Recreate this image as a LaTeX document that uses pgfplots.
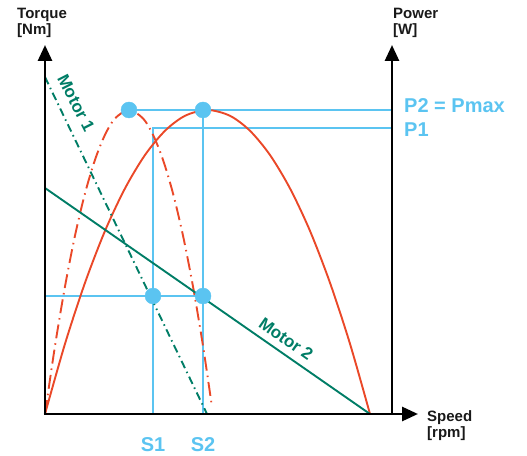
\documentclass[border=0pt]{standalone}
\usepackage{pgfplots}
\pgfplotsset{compat=1.18}
\usepackage{fontspec}
\setmainfont{Liberation Sans}
\usetikzlibrary{arrows.meta}
\definecolor{mgreen}{RGB}{0,125,102}
\definecolor{mred}{RGB}{234,72,40}
\definecolor{mblue}{RGB}{91,196,241}
\begin{document}
\begin{tikzpicture}
\begin{axis}[x=1pt,y=1pt,xmin=0,xmax=373,ymin=0,ymax=369,hide axis,
  anchor=origin,at={(0,0)},clip=false,scale only axis]
% blue construction lines
\addplot[mblue,line width=1.9pt] coordinates {(84,304) (347,304)};
\addplot[mblue,line width=1.9pt] coordinates {(108,0) (108,286) (347,286)};
\addplot[mblue,line width=1.9pt] coordinates {(158,0) (158,304)};
\addplot[mblue,line width=1.9pt] coordinates {(0,118) (158,118)};
% red power curves
\addplot[mred,line width=1.9pt,smooth] coordinates {
(0,0) (20,70.2) (40,131.2) (60,183.1) (80,225.6) (100,259.0) (120,283.2) (140,298.2)
(162.5,304) (185,298.2) (205,283.2) (225,259.0) (245,225.6) (265,183.1) (285,131.2) (305,70.2) (325,0)};
\addplot[mred,line width=1.9pt,smooth,dash pattern=on 14pt off 5pt on 1.5pt off 5pt] coordinates {
(0,0) (10,68.1) (20,127.5) (30,178.4) (40,220.6) (50,254.2) (60,279.2) (70,295.6) (84,304)
(98,295.6) (108,279.2) (118,254.2) (128,220.6) (138,178.4) (148,127.5) (158,68.1) (167,7)};
% motor torque lines
\addplot[mgreen,line width=1.9pt,dash pattern=on 8pt off 4pt on 1.5pt off 4pt] coordinates {(0,337) (162,0)};
\addplot[mgreen,line width=1.9pt] coordinates {(0,226) (325,0)};
% points
\addplot[only marks,mark=*,mark size=8pt,mblue] coordinates {(84,304) (158,304) (108,118) (158,118)};
% axes
\draw[line width=2.8pt,-{Triangle[length=16pt,width=14pt]}] (axis cs:0,0) -- (axis cs:0,369);
\draw[line width=2.8pt,-{Triangle[length=16pt,width=14pt]}] (axis cs:347,0) -- (axis cs:347,369);
\draw[line width=2.8pt,-{Triangle[length=16pt,width=14pt]}] (axis cs:-1.4,0) -- (axis cs:373,0);
% labels
\node[anchor=north west,align=left,inner sep=0pt,font=\bfseries\fontsize{15}{16}\selectfont,text=black!90] at (axis cs:-28,406) {Torque\\{[Nm]}};
\node[anchor=north west,align=left,inner sep=0pt,font=\bfseries\fontsize{15}{16}\selectfont,text=black!90] at (axis cs:348,406) {Power\\{[W]}};
\node[anchor=north west,align=left,inner sep=0pt,font=\bfseries\fontsize{15}{16}\selectfont,text=black!90] at (axis cs:382,4) {Speed\\{[rpm]}};
\node[anchor=base,inner sep=0pt,font=\bfseries\fontsize{20}{24}\selectfont,text=mblue] at (axis cs:108,-37) {S1};
\node[anchor=base,inner sep=0pt,font=\bfseries\fontsize{20}{24}\selectfont,text=mblue] at (axis cs:158,-37) {S2};
\node[anchor=base west,inner sep=0pt,font=\bfseries\fontsize{20}{24}\selectfont,text=mblue] at (axis cs:359,301) {P2 = Pmax};
\node[anchor=base west,inner sep=0pt,font=\bfseries\fontsize{20}{24}\selectfont,text=mblue] at (axis cs:359,277) {P1};
\node[rotate=-63,inner sep=0pt,font=\bfseries\fontsize{17}{20}\selectfont,text=mgreen] at (axis cs:31,311) {Motor 1};
\node[rotate=-35,inner sep=0pt,font=\bfseries\fontsize{17}{20}\selectfont,text=mgreen] at (axis cs:241,75) {Motor 2};
\end{axis}
\pgfresetboundingbox
\useasboundingbox (-45pt,-41pt) rectangle (482pt,414pt);
\end{tikzpicture}
\end{document}
